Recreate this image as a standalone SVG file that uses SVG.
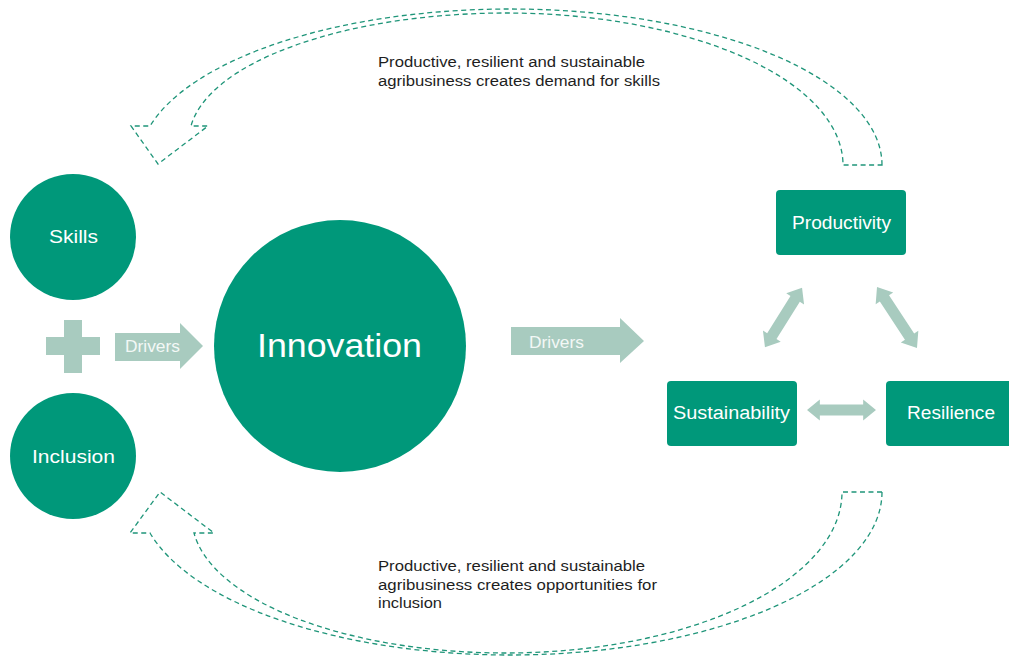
<svg xmlns="http://www.w3.org/2000/svg" width="1009" height="660" viewBox="0 0 1009 660">
<defs>
<style>
.node{fill:#00987A;}
.lt{fill:#A8CBBF;}
.wt{fill:#FFFFFF;font-family:"Liberation Sans",Arial,sans-serif;text-anchor:start;}
.dt{fill:#F3F8F6;font-family:"Liberation Sans",Arial,sans-serif;font-size:17px;}
.ann{fill:#1E1E1E;font-family:"Liberation Sans",Arial,sans-serif;font-size:15.5px;}
.dash{fill:none;stroke:#1F9579;stroke-width:1.3;stroke-dasharray:5 3.5;}
</style>
<path id="dbl" d="M-35,0 L-22,-10.5 L-22,-5.5 L22,-5.5 L22,-10.5 L35,0 L22,10.5 L22,5.5 L-22,5.5 L-22,10.5 Z"/>
</defs>
<rect width="1009" height="660" fill="#FFFFFF"/>

<g id="connectors">
  <!-- top curved feedback arrow -->
  <path class="dash" d="M882,165 A372,156 0 0 0 510,9 A372,156 0 0 0 150,126 L131,126 L158,164 L208,126 L191,126 A318,127 0 0 1 506,13 A337,152 0 0 1 843,165 Z"/>
  <!-- bottom curved feedback arrow -->
  <path class="dash" d="M882,492 A372,163 0 0 1 510,655 A372,163 0 0 1 150,533 L130,533 L160,492 L214,533 L194,533 A314,136 0 0 0 506,653 A336,161 0 0 0 842,492 Z"/>
  <!-- Drivers arrows -->
  <polygon class="lt" points="115,333 180,333 180,323 203,346 180,369 180,361 115,361"/>
  <text class="dt" x="125" y="352" textLength="55" lengthAdjust="spacingAndGlyphs">Drivers</text>
  <polygon class="lt" points="511,327 620,327 620,318 644,341 620,363 620,355 511,355"/>
  <text class="dt" x="529" y="348" textLength="55" lengthAdjust="spacingAndGlyphs">Drivers</text>
  <!-- double arrows -->
  <use href="#dbl" class="lt" transform="translate(783.5,317.5) rotate(-58)"/>
  <use href="#dbl" class="lt" transform="translate(897,317.5) rotate(56.7) scale(1.04,1)"/>
  <use href="#dbl" class="lt" transform="translate(841.5,410) scale(0.985,1)"/>
</g>

<g id="skills">
  <circle class="node" cx="73" cy="237" r="63"/>
  <text class="wt" x="49" y="243" font-size="19" textLength="49" lengthAdjust="spacingAndGlyphs">Skills</text>
</g>
<g id="plus">
  <rect class="lt" x="46" y="337" width="54" height="18"/>
  <rect class="lt" x="64" y="320" width="18" height="53"/>
</g>
<g id="inclusion">
  <circle class="node" cx="73" cy="456" r="63"/>
  <text class="wt" x="32" y="463" font-size="19" textLength="83" lengthAdjust="spacingAndGlyphs">Inclusion</text>
</g>
<g id="innovation">
  <circle class="node" cx="340" cy="346" r="126"/>
  <text class="wt" x="257" y="357" font-size="34" textLength="165" lengthAdjust="spacingAndGlyphs">Innovation</text>
</g>
<g id="productivity">
  <rect class="node" x="776" y="190" width="130" height="65" rx="4"/>
  <text class="wt" x="792" y="229" font-size="18" textLength="99" lengthAdjust="spacingAndGlyphs">Productivity</text>
</g>
<g id="sustainability">
  <rect class="node" x="667" y="381" width="130" height="65" rx="4"/>
  <text class="wt" x="673" y="419" font-size="18" textLength="117" lengthAdjust="spacingAndGlyphs">Sustainability</text>
</g>
<g id="resilience">
  <rect class="node" x="886" y="381" width="135" height="65" rx="4"/>
  <text class="wt" x="907" y="419" font-size="18" textLength="88" lengthAdjust="spacingAndGlyphs">Resilience</text>
</g>

<g id="labels">
  <text class="ann" x="378" y="67" textLength="267" lengthAdjust="spacingAndGlyphs">Productive, resilient and sustainable</text>
  <text class="ann" x="378" y="86" textLength="282" lengthAdjust="spacingAndGlyphs">agribusiness creates demand for skills</text>
  <text class="ann" x="378" y="571" textLength="267" lengthAdjust="spacingAndGlyphs">Productive, resilient and sustainable</text>
  <text class="ann" x="378" y="590" textLength="279" lengthAdjust="spacingAndGlyphs">agribusiness creates opportunities for</text>
  <text class="ann" x="378" y="608" textLength="64" lengthAdjust="spacingAndGlyphs">inclusion</text>
</g>
</svg>
